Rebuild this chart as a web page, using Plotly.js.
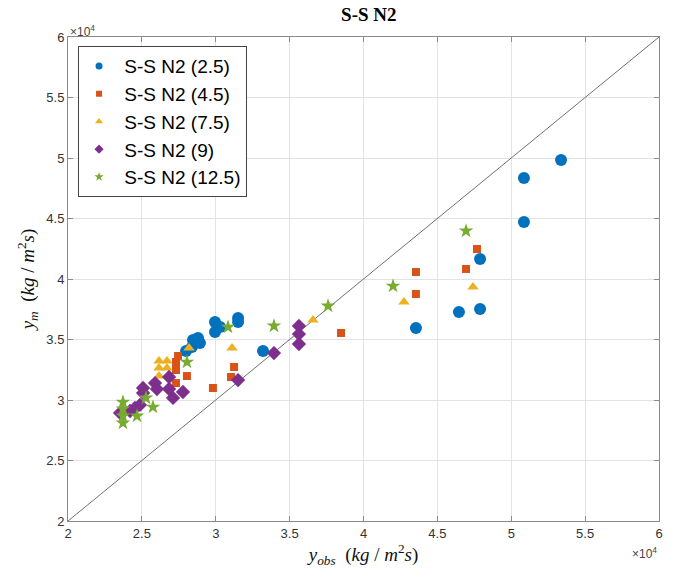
<!DOCTYPE html>
<html>
<head>
<meta charset="utf-8">
<script src="https://cdn.plot.ly/plotly-3.0.1.min.js"></script>
<style>html,body{margin:0;padding:0;background:#fff;}#chart{width:683px;height:577px;}</style>
</head>
<body>
<div id="chart"></div>
<script>
// Series names
const seriesNames = ["S-S N2 (2.5)", "S-S N2 (4.5)", "S-S N2 (7.5)", "S-S N2 (9)", "S-S N2 (12.5)"];

// S-S N2 (2.5)
const obs25 = [27990, 28460, 28800, 28390, 28930, 29950, 29950, 30290, 31510, 31510, 33200, 43550, 46460, 47890, 47890, 50860, 50860, 53370];
const mod25 = [34050, 34960, 35120, 34380, 34710, 36450, 35620, 36030, 36780, 36450, 34050, 35950, 37270, 37520, 41650, 44710, 48350, 49830];

// S-S N2 (4.5)
const obs45 = [27450, 27310, 27310, 28050, 27310, 29810, 31240, 31030, 38480, 43550, 43550, 46940, 47680];
const mod45 = [33640, 33140, 32480, 31980, 31400, 30990, 32730, 31900, 35540, 40580, 38760, 40830, 42480];

// S-S N2 (7.5)
const obs75 = [26160, 26160, 26700, 26700, 26160, 28190, 31100, 36580, 42740, 47410];
const mod75 = [33220, 32640, 33220, 32640, 31980, 34300, 34300, 36610, 38100, 39340];

// S-S N2 (9)
const obs9 = [23520, 24200, 24530, 24870, 25080, 25080, 25890, 26020, 26840, 26840, 27110, 27780, 31510, 33940, 35630, 35630, 35630];
const mod9 = [28930, 29090, 29340, 29590, 30580, 30990, 31400, 30910, 31900, 30910, 30170, 30660, 31650, 33880, 36120, 35450, 34630];

// S-S N2 (12.5)
const obs125 = [23720, 23720, 23720, 23720, 24670, 25280, 25750, 28050, 30830, 33940, 37600, 42000, 46940];
const mod125 = [29830, 29260, 28680, 28100, 28680, 30170, 29420, 33140, 36030, 36120, 37770, 39420, 43970];

// Reference line y = x
const refLine = [20000, 60000];

// Axis ticks
const tickVals = [20000, 25000, 30000, 35000, 40000, 45000, 50000, 55000, 60000];
const tickText = ["2", "2.5", "3", "3.5", "4", "4.5", "5", "5.5", "6"];

const colors = ["#0072BD", "#D95319", "#EDB120", "#7E2F8E", "#77AC30"];
const symbols = ["circle", "square", "triangle-up", "diamond", "star"];
const sizes = [12, 8, 10, 11, 11];
const legendSizes = [7, 6, 7, 7, 7];
const xs = [obs25, obs45, obs75, obs9, obs125];
const ys = [mod25, mod45, mod75, mod9, mod125];

const traces = [
  {x: refLine, y: refLine, mode: "lines", line: {color: "#707070", width: 1}, showlegend: false, hoverinfo: "skip"}
];
for (let i = 0; i < seriesNames.length; i++) {
  traces.push({x: xs[i], y: ys[i], name: seriesNames[i], mode: "markers", type: "scatter",
    showlegend: false, legendgroup: "g" + i,
    marker: {symbol: symbols[i], size: sizes[i], color: colors[i]}});
}
// legend entries with small markers (as in the reference legend)
for (let i = 0; i < seriesNames.length; i++) {
  traces.push({x: [null], y: [null], name: "\u00a0" + seriesNames[i], mode: "markers", type: "scatter",
    legendgroup: "g" + i,
    marker: {symbol: symbols[i], size: legendSizes[i], color: colors[i]}});
}

const axisCommon = {
  range: [20000, 60000],
  tickvals: tickVals,
  ticktext: tickText,
  showgrid: true,
  gridcolor: "#e3e3e3",
  gridwidth: 1,
  zeroline: false,
  showline: true,
  linecolor: "#8a8a8a",
  linewidth: 1,
  mirror: "ticks",
  ticks: "inside",
  ticklen: 5,
  tickcolor: "#8a8a8a",
  tickfont: {family: "Liberation Sans, Arial, sans-serif", size: 13, color: "#333333"}
};

const layout = {
  width: 683,
  height: 577,
  margin: {l: 68, r: 24, t: 37, b: 56},
  paper_bgcolor: "#ffffff",
  plot_bgcolor: "#ffffff",
  title: {
    text: "<b>S-S N2</b>",
    font: {family: "Liberation Serif, Times New Roman, serif", size: 19, color: "#000"},
    x: 0.54, xanchor: "center", y: 0.975, yanchor: "middle"
  },
  xaxis: Object.assign({}, axisCommon, {
    title: {text: "<i>y<sub>obs</sub></i>  (<i>kg</i> / <i>m</i><sup>2</sup><i>s</i>)",
            font: {family: "Liberation Serif, Times New Roman, serif", size: 19, color: "#111"},
            standoff: 8}
  }),
  yaxis: Object.assign({}, axisCommon, {
    title: {text: "<i>y<sub>m</sub></i>  (<i>kg</i> / <i>m</i><sup>2</sup><i>s</i>)",
            font: {family: "Liberation Serif, Times New Roman, serif", size: 19, color: "#111"},
            standoff: 6}
  }),
  legend: {
    x: 0.017, y: 0.981, xanchor: "left", yanchor: "top",
    bgcolor: "#ffffff", bordercolor: "#444444", borderwidth: 1,
    font: {family: "Liberation Sans, Arial, sans-serif", size: 19, color: "#000"},
    itemsizing: "trace",
    tracegroupgap: 0
  },
  annotations: [
    {text: "×10<sup>4</sup>", xref: "paper", yref: "paper", x: 0.0, y: 1.0, xanchor: "left", yanchor: "bottom",
     yshift: -4, showarrow: false, font: {family: "Liberation Sans, Arial, sans-serif", size: 12, color: "#444"}},
    {text: "×10<sup>4</sup>", xref: "paper", yref: "paper", x: 1.0, y: -0.055, xanchor: "right", yanchor: "top",
     yshift: 5, showarrow: false, font: {family: "Liberation Sans, Arial, sans-serif", size: 12, color: "#444"}}
  ],
  showlegend: true
};

Plotly.newPlot("chart", traces, layout, {displayModeBar: false, staticPlot: true});
</script>
</body>
</html>
